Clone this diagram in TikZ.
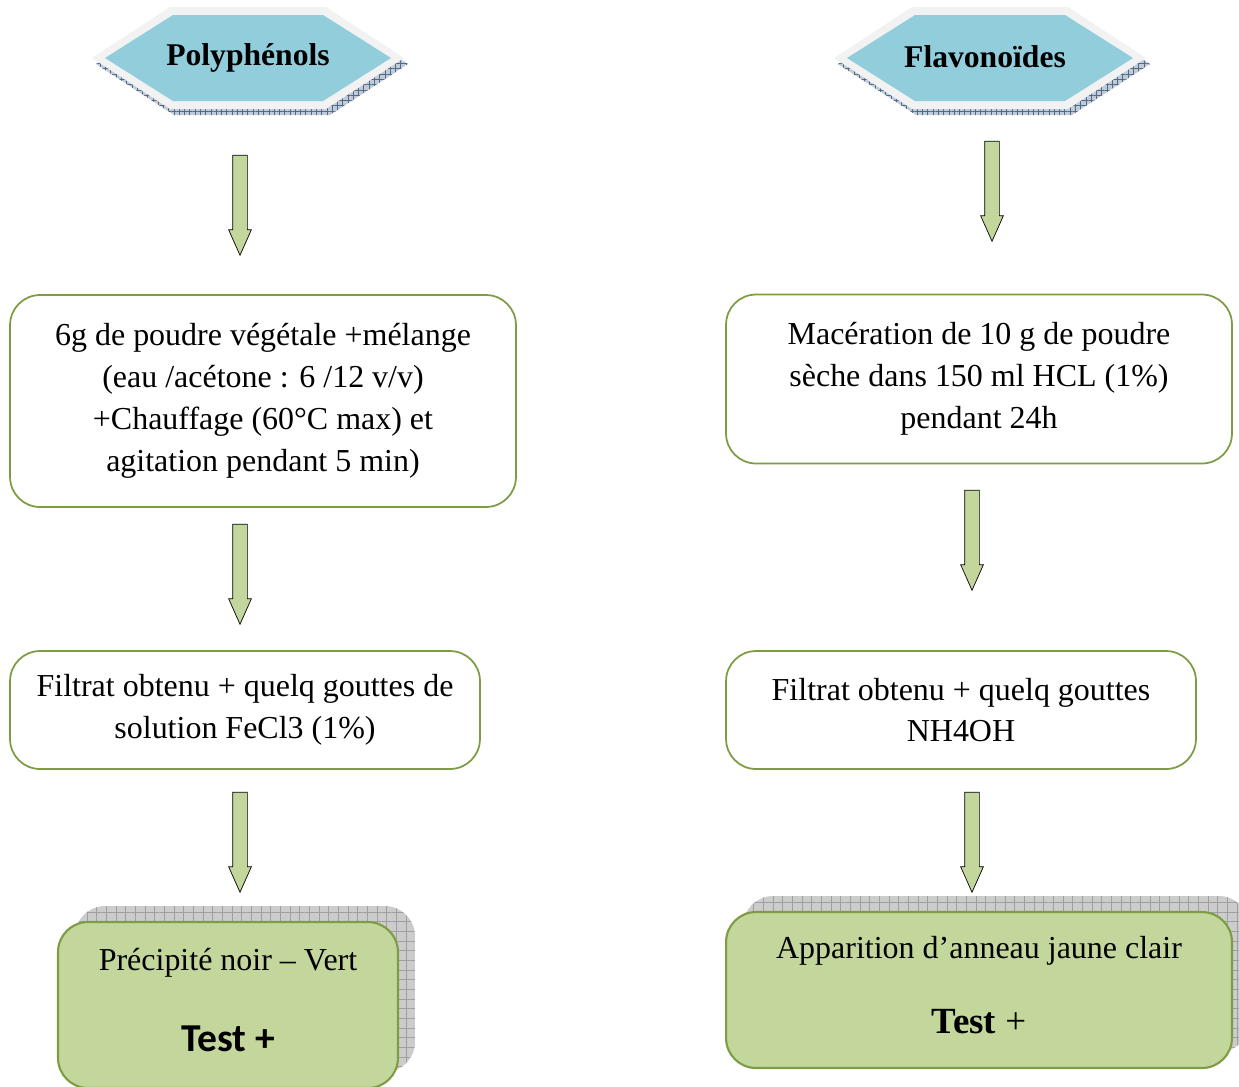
\documentclass[tikz,border=0pt]{standalone}
\usepackage{fontspec}
\setmainfont{Liberation Serif}
\newfontfamily\carlito{Carlito}
\usetikzlibrary{positioning,shapes.arrows,shadows,patterns.meta,calc}
\definecolor{hexblue}{HTML}{92CDDC}
\definecolor{hexrim}{HTML}{F2F2F2}
\definecolor{hexshade}{HTML}{4F6A8A}
\definecolor{olive}{HTML}{7E9C44}
\definecolor{leaf}{HTML}{C3D69B}
\tikzset{
  procbox/.style={rectangle,draw=olive,fill=white,line width=1pt,rounded corners=0.6cm,
    align=center,inner sep=4pt,font=\fontsize{18.2}{23.8}\selectfont},
  resbox/.style={procbox,fill=leaf,line width=1.2pt,text depth=0.2cm,
    general shadow={shadow xshift=0.34cm,shadow yshift=0.32cm,fill=gray!40,
      postaction={pattern={Hatch[distance=5.5pt,line width=0.4pt]},pattern color=gray!75}}},
  downarr/.style={single arrow,draw=black,fill=leaf,shape border rotate=270,
    minimum height=2cm,inner sep=0.14cm,single arrow head extend=0.08cm,
    single arrow tip angle=48},
  title/.style={font=\fontsize{18}{22}\selectfont\bfseries},
}

\begin{document}
\begin{tikzpicture}[x=0.02cm,y=-0.02cm]
  \useasboundingbox (0,0) rectangle (1239,1086);
  % title hexagons
  \coordinate (polyc) at (248,58);
  \coordinate (flavc) at (990,58);
  \foreach \c in {polyc,flavc} {
    \path[preaction={fill=hexshade!35},pattern={Hatch[distance=3pt,line width=0.3pt]},pattern color=hexshade]
      ($(\c)+(4,6)$) ++(-156,0) -- ++(78,-51) -- ++(156,0) -- ++(78,51) -- ++(-78,51) -- ++(-156,0) -- cycle;
    \fill[hexrim] (\c) ++(-156,0) -- ++(78,-51) -- ++(156,0) -- ++(78,51) -- ++(-78,51) -- ++(-156,0) -- cycle;
    \fill[hexblue] (\c) ++(-143,0) -- ++(68,-43) -- ++(150,0) -- ++(68,43) -- ++(-68,43) -- ++(-150,0) -- cycle;
  }
  \node[title] (poly) at (polyc) {Polyphénols};
  \node[title] (flav) at ($(flavc)+(-5,-1)$) {Flavonoïdes};

  % left column
  \node[procbox,minimum width=10.12cm,minimum height=4.24cm] (ext) at (263,401)
    {6g de poudre végétale +mélange\\(eau /acétone : 6 /12 v/v)\\+Chauffage (60°C max) et\\agitation pendant 5 min)};
  \node[procbox,minimum width=9.4cm,minimum height=2.36cm] (fecl) at (245,710)
    {Filtrat obtenu + quelq gouttes de\\solution FeCl3 (1\%)};
  \node[resbox,minimum width=6.8cm,minimum height=3.32cm] (resp) at (228,1005)
    {Précipité noir – Vert\\[22pt]{\carlito\bfseries\fontsize{22.5}{28}\selectfont Test +}};

  % right column
  \node[procbox,minimum width=10.12cm,minimum height=3.38cm] (mac) at (979,379)
    {Macération de 10 g de poudre\\sèche dans 150 ml HCL (1\%)\\pendant 24h};
  \node[procbox,minimum width=9.4cm,minimum height=2.36cm] (nh) at (961,710)
    {Filtrat obtenu + quelq gouttes\\NH4OH};
  \node[resbox,minimum width=10.12cm,minimum height=3.12cm] (resf) at (979,990)
    {Apparition d’anneau jaune clair\\[19pt]{\fontsize{21}{26}\selectfont\textbf{Test} +}};

  % arrows
  \node[downarr] (a1) at (240,197) {};
  \node[downarr] (a2) at (240,566) {};
  \node[downarr] (a3) at (240,834) {};
  \node[downarr] (b1) at (992,183) {};
  \node[downarr] (b2) at (972,532) {};
  \node[downarr] (b3) at (972,834) {};
\end{tikzpicture}
\end{document}
